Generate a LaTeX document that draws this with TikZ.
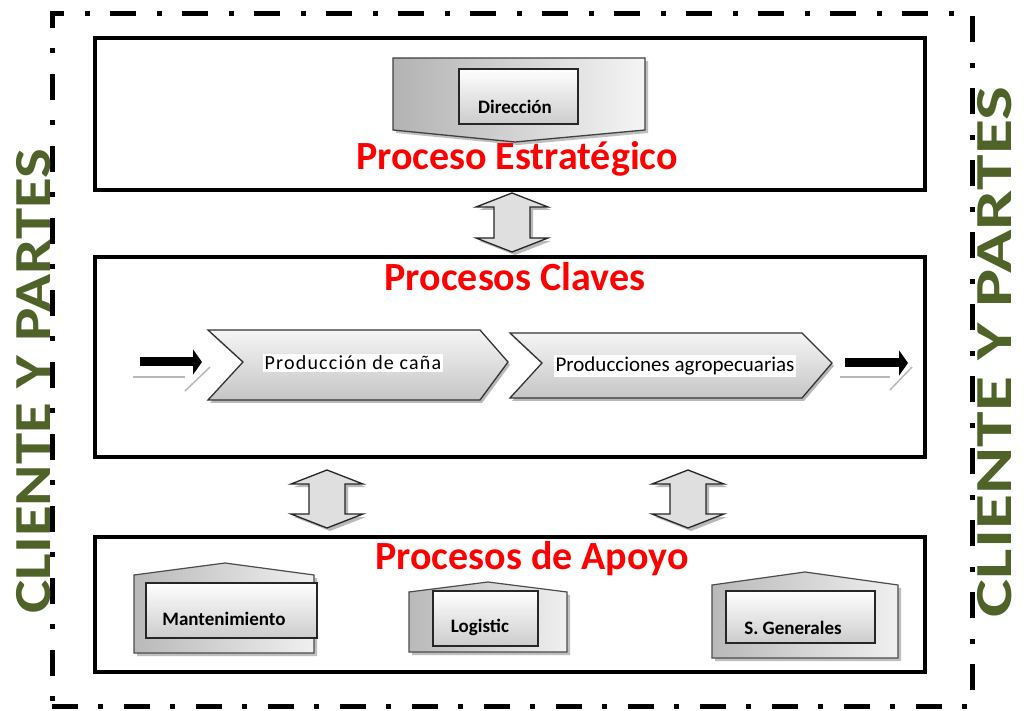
\documentclass[tikz,border=0pt]{standalone}
\usepackage{fontspec}
\setmainfont{Carlito}
\usetikzlibrary{arrows.meta}
\definecolor{clientgreen}{RGB}{79,98,40}
\newcommand{\dblblockpath}[3]{(#1,#2) -- (#1+36,#2+14) -- (#1+18,#2+14) -- (#1+18,#3-14) -- (#1+36,#3-14) -- (#1,#3) -- (#1-36,#3-14) -- (#1-18,#3-14) -- (#1-18,#2+14) -- (#1-36,#2+14) -- cycle}
\newcommand{\dblblock}[3]{%
  \fill[gray!55, shift={(3,3)}] \dblblockpath{#1}{#2}{#3};
  \draw[dblarr] \dblblockpath{#1}{#2}{#3};}
\begin{document}
\begin{tikzpicture}[x=1pt,y=-1pt,
  frame/.style={draw=black, line width=3.5pt, inner sep=0pt},
  outerframe/.style={draw=black, line width=5pt, dash pattern=on 26pt off 20pt on 5pt off 21pt, inner sep=0pt},
  title/.style={text=red, font=\fontsize{40}{41}\selectfont\bfseries, inner sep=0pt, anchor=base},
  side/.style={text=clientgreen, font=\fontsize{52}{52}\selectfont\bfseries, inner sep=0pt, rotate=90},
  lbl/.style={font=\fontsize{19}{20}\selectfont\bfseries, inner sep=0pt},
  procl/.style={font=\fontsize{21}{22}\selectfont, fill=white, inner sep=1.5pt},
  chev/.style={top color=gray!8, bottom color=gray!45, draw=black!80, line width=1.3pt},
  shadowc/.style={fill=gray!55},
  innerbox/.style={draw=black!85, line width=1.2pt, top color=white, bottom color=gray!40, inner sep=0pt},
  housebox/.style={left color=gray!55, right color=gray!12, draw=black!70, line width=1.2pt},
  dblarr/.style={fill=gray!25, draw=black!85, line width=1.3pt},
  flowarrow/.style={line width=9pt, -{Triangle[length=9pt,width=25pt]}},
  ghost/.style={draw=gray!55, line width=1.5pt}
]
\useasboundingbox (0,0) rectangle (1026,711);
\fill[white] (0,0) rectangle (1026,711);

% outer dash-dot frame
\node[outerframe, minimum width=920pt, minimum height=692pt] (outer) at (512,360) {};

% three process boxes
\node[frame, minimum width=830pt, minimum height=152pt] (estr) at (510,114) {};
\node[frame, minimum width=830pt, minimum height=200pt] (clave) at (510,357) {};
\node[frame, minimum width=830pt, minimum height=135pt] (apoyo) at (510,604.5) {};

% side texts
\node[side] (cl) at (34,381) {\scalebox{1.21}[1]{CLIENTE Y PARTES}};
\node[side] (cr) at (995,352) {\scalebox{1.38}[1]{CLIENTE Y PARTES}};

% Direccion pentagon
\fill[gray!50] (396,61) -- (648,61) -- (648,133) -- (518,145) -- (396,133) -- cycle;
\shade[left color=gray!60, right color=gray!8, draw=black!75, line width=1.3pt]
  (393,58) -- (645,58) -- (645,130) -- (515,142) -- (393,130) -- cycle;
\node[innerbox, minimum width=119pt, minimum height=55pt] (dirbox) at (518.5,96.5) {};
\node[lbl] (dir) at (515,107) {Dirección};

% titles
\node[title] (t1) at (517,170) {Proceso Estratégico};
\node[title] (t2) at (515,291) {Procesos Claves};
\node[title] (t3) at (532,569) {Procesos de Apoyo};

% chevrons
\fill[shadowc] (210,333) -- (482,333) -- (510,365) -- (482,403) -- (210,403) -- (245,365) -- cycle;
\shade[chev] (208,330) -- (480,330) -- (508,362) -- (480,400) -- (208,400) -- (243,362) -- cycle;
\fill[shadowc] (512,336) -- (804,336) -- (834,366) -- (804,401) -- (512,401) -- (544,366) -- cycle;
\shade[chev] (510,333) -- (802,333) -- (832,363) -- (802,398) -- (510,398) -- (542,363) -- cycle;
\node[procl, font=\fontsize{20}{22}\selectfont\addfontfeature{LetterSpace=6}] (cana) at (353,363) {Producción de caña};
\node[procl] (agro) at (675,366) {Producciones agropecuarias};

% flow arrows
\coordinate (inA) at (140,362);
\coordinate (inB) at (202,362);
\coordinate (outA) at (845,363);
\coordinate (outB) at (908,363);
\draw[flowarrow] (inA) -- (inB);
\draw[flowarrow] (outA) -- (outB);
\draw[ghost] (133,377) -- (185,377);
\draw[ghost] (210,367) -- (185,391);
\draw[ghost] (840,377) -- (890,377);
\draw[ghost] (912,367) -- (890,390);

% double block arrows
\dblblock{512}{193}{252}
\dblblock{327}{470}{528}
\dblblock{688}{470}{528}

% support houses
\fill[gray!50, shift={(3,3)}] (134,575) -- (225,563) -- (314,575) -- (314,653) -- (134,653) -- cycle;
\shade[housebox] (134,575) -- (225,563) -- (314,575) -- (314,653) -- (134,653) -- cycle;
\node[innerbox, minimum width=171pt, minimum height=55pt] (mantbox) at (231.5,610.5) {};
\node[lbl] (mant) at (224,619) {Mantenimiento};

\fill[gray!50, shift={(3,3)}] (409,592) -- (488,582) -- (567,592) -- (567,652) -- (409,652) -- cycle;
\shade[housebox] (409,592) -- (488,582) -- (567,592) -- (567,652) -- (409,652) -- cycle;
\node[innerbox, minimum width=105pt, minimum height=55pt] (logbox) at (485.5,618.5) {};
\node[lbl] (log) at (480,627) {Logistic};

\fill[gray!50, shift={(3,3)}] (712,585) -- (805,572) -- (898,585) -- (898,658) -- (712,658) -- cycle;
\shade[housebox] (712,585) -- (805,572) -- (898,585) -- (898,658) -- (712,658) -- cycle;
\node[innerbox, minimum width=149pt, minimum height=52pt] (sgbox) at (800.5,617) {};
\node[lbl] (sg) at (793,628) {S. Generales};
\end{tikzpicture}
\end{document}
